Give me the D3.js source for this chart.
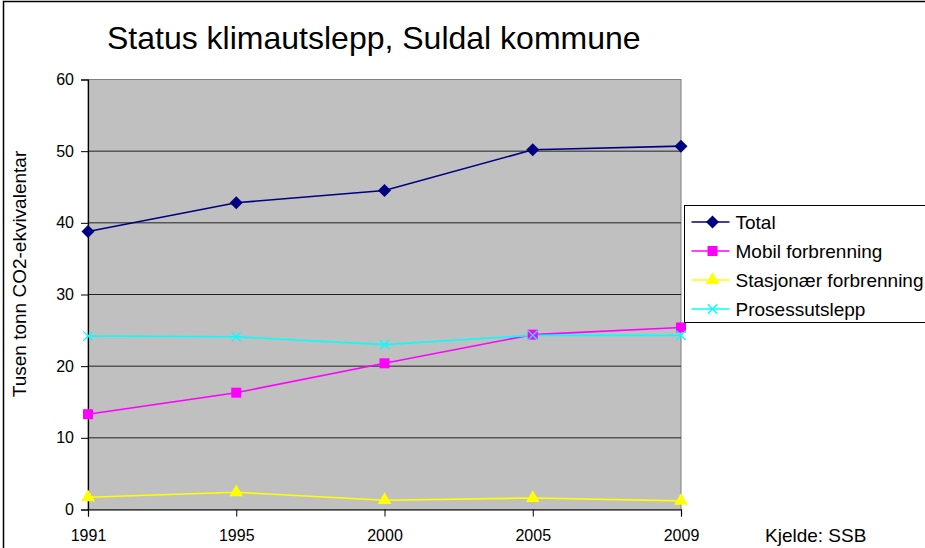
<!DOCTYPE html>
<html>
<head>
<meta charset="utf-8">
<script src="https://cdn.jsdelivr.net/npm/d3@7"></script>
<style>
	body { margin: 0; background: #fff; }
	svg { display: block; font-family: Arial, "Liberation Sans", sans-serif; }
</style>
</head>
<body>
<svg id="chart" width="925" height="548"></svg>
<script>

var years = ['1991', '1995', '2000', '2005', '2009'];
var yTicks = [0, 10, 20, 30, 40, 50, 60];

var total = [38.8, 42.8, 44.5, 50.2, 50.7];
var mobil = [13.3, 16.3, 20.4, 24.4, 25.4];
var stasjonar = [1.7, 2.4, 1.3, 1.6, 1.2];
var prosess = [24.2, 24.1, 23.0, 24.3, 24.3];

var seriesNames = ['Total', 'Mobil forbrenning', 'Stasjonær forbrenning', 'Prosessutslepp'];
var seriesColors = ['#000080', '#ff00ff', '#ffff00', '#00ffff'];
var seriesMarkers = ['diamond', 'square', 'triangle', 'cross'];

var drawChart = function (id) {

	var svg = d3.select(id);

	// outer frame (runs off the right and bottom edges)
	svg.append('rect')
		.attr('x', 3.5)
		.attr('y', 1.5)
		.attr('width', 1000)
		.attr('height', 600)
		.attr('fill', 'white')
		.attr('stroke', 'black')
		.attr('stroke-width', 1.5);

	var left = 88, right = 681, top = 79.5, bottom = 509.5;

	var x = d3.scalePoint().domain(years).range([left, right]);
	var y = d3.scaleLinear().domain([0, 60]).range([bottom, top]);

	// plot area
	svg.append('rect')
		.attr('x', left)
		.attr('y', top)
		.attr('width', right - left)
		.attr('height', bottom - top)
		.attr('fill', '#c0c0c0')
		.attr('stroke', '#808080');

	// gridlines
	svg.append('g')
		.selectAll('line')
		.data(yTicks.filter(function (d) { return d > 0 && d < 60; }))
		.enter()
		.append('line')
		.attr('x1', left)
		.attr('x2', right)
		.attr('y1', function (d) { return y(d); })
		.attr('y2', function (d) { return y(d); })
		.attr('stroke', '#222')
		.attr('stroke-width', 1);

	var yAxis = svg.append('g')
		.attr('transform', 'translate(' + left + ',0)')
		.call(d3.axisLeft(y).tickValues(yTicks).tickSize(7).tickPadding(7));

	var xAxis = svg.append('g')
		.attr('transform', 'translate(0,' + bottom + ')')
		.call(d3.axisBottom(x).tickSize(7).tickPadding(13));

	[yAxis, xAxis].forEach(function (a) {
		a.select('.domain').attr('stroke', 'black').attr('stroke-width', 1.2);
		a.selectAll('.tick line').attr('stroke', 'black');
		a.selectAll('.tick text')
			.attr('fill', 'black')
			.style('font-size', '16px');
	});

	var allSeries = [total, mobil, stasjonar, prosess];

	var line = d3.line()
		.x(function (d, i) { return x(years[i]); })
		.y(function (d) { return y(d); });

	var symbolFor = function (m) {
		if (m === 'diamond') return 'M0,-6.5L6.5,0L0,6.5L-6.5,0Z';
		if (m === 'square') return d3.symbol().type(d3.symbolSquare).size(100)();
		if (m === 'triangle') return d3.symbol().type(d3.symbolTriangle).size(80)();
		return d3.symbol().type(d3.symbolTimes).size(60)();
	};

	allSeries.forEach(function (s, k) {
		svg.append('path')
			.attr('d', line(s))
			.attr('fill', 'none')
			.attr('stroke', seriesColors[k])
			.attr('stroke-width', 1.6);
	});

	allSeries.forEach(function (s, k) {
		svg.append('g')
			.selectAll('path')
			.data(s)
			.enter()
			.append('path')
			.attr('transform', function (d, i) { return 'translate(' + x(years[i]) + ',' + y(d) + ')'; })
			.attr('d', symbolFor(seriesMarkers[k]))
			.attr('fill', seriesMarkers[k] === 'cross' ? 'none' : seriesColors[k])
			.attr('stroke', seriesColors[k])
			.attr('stroke-width', seriesMarkers[k] === 'cross' ? 1.3 : 0);
	});

	// title
	svg.append('text')
		.attr('x', 107)
		.attr('y', 49)
		.style('font-size', '32px')
		.text('Status klimautslepp, Suldal kommune');

	// y label
	svg.append('text')
		.attr('transform', 'translate(26,274) rotate(-90)')
		.attr('text-anchor', 'middle')
		.style('font-size', '19px')
		.text('Tusen tonn CO2-ekvivalentar');

	// source
	svg.append('text')
		.attr('x', 765)
		.attr('y', 542)
		.style('font-size', '19px')
		.text('Kjelde: SSB');

	// legend
	var legend = svg.append('g').attr('transform', 'translate(684.5,205.5)');
	legend.append('rect')
		.attr('width', 300)
		.attr('height', 117)
		.attr('fill', 'white')
		.attr('stroke', 'black');

	var items = legend.selectAll('g.item')
		.data(seriesNames)
		.enter()
		.append('g')
		.attr('transform', function (d, i) { return 'translate(0,' + (16.5 + i * 29) + ')'; });

	items.append('line')
		.attr('x1', 7)
		.attr('x2', 45)
		.attr('stroke', function (d, i) { return seriesColors[i]; })
		.attr('stroke-width', 1.6);

	items.append('path')
		.attr('transform', 'translate(28,0)')
		.attr('d', function (d, i) { return symbolFor(seriesMarkers[i]); })
		.attr('fill', function (d, i) { return seriesMarkers[i] === 'cross' ? 'none' : seriesColors[i]; })
		.attr('stroke', function (d, i) { return seriesColors[i]; })
		.attr('stroke-width', function (d, i) { return seriesMarkers[i] === 'cross' ? 1.3 : 0; });

	items.append('text')
		.attr('x', 51)
		.attr('dy', '0.36em')
		.style('font-size', '19px')
		.text(function (d) { return d; });
};

window.onload = function () {
	drawChart('#chart');
};
</script>
</body>
</html>
